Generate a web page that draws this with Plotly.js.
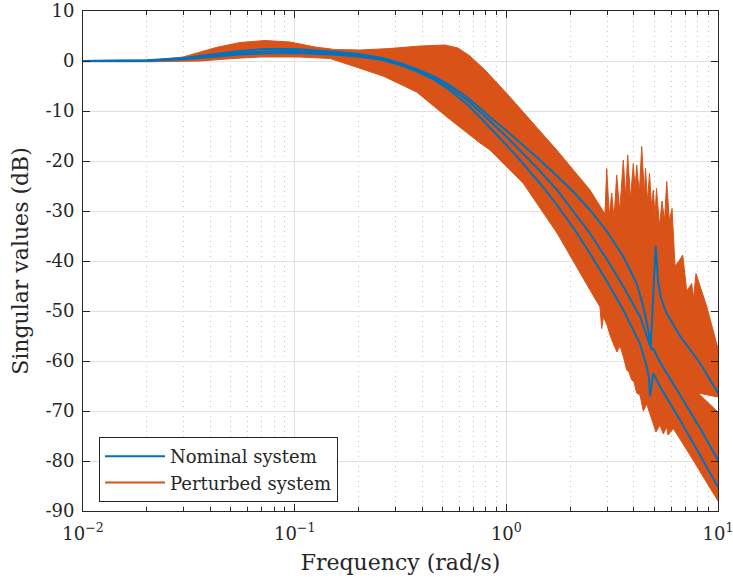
<!DOCTYPE html>
<html>
<head>
<meta charset="utf-8">
<script src="https://cdn.plot.ly/plotly-3.0.1.min.js"></script>
<style>
  html, body { margin: 0; padding: 0; background: #ffffff; }
  #plot { width: 733px; height: 585px; }
</style>
</head>
<body>
<div id="plot"></div>
<script>
// Singular values of the nominal plant and envelope of the perturbed plants

// Perturbed plants: upper envelope (rad/s, dB), left to right
const envUpperW = [0.01, 0.0207, 0.0297, 0.0425, 0.0552, 0.0724, 0.095, 0.125, 0.155, 0.204,
  0.282, 0.391, 0.513, 0.591, 0.673, 0.793, 1.01, 1.18, 1.73, 2.485, 2.924,
  2.980, 3.066, 3.147, 3.227, 3.322, 3.432, 3.570, 3.656, 3.745, 3.861, 3.980, 4.054,
  4.130, 4.249, 4.361, 4.486, 4.545, 4.645, 4.747, 4.852, 4.948, 5.039, 5.122, 5.293,
  5.439, 5.590, 5.725, 5.889, 6.064, 6.266, 6.545, 6.814, 7.116, 7.512, 7.661, 7.870,
  8.845, 10];
const envUpperDb = [0, 0.1, 0.8, 2.7, 3.7, 4.1, 3.8, 2.8, 2.3, 2.2,
  2.5, 3.0, 3.2, 2.6, 1.0, -1.8, -6.6, -9.8, -17.8, -25.8, -30.6,
  -21.5, -31.0, -26.4, -31.5, -22.8, -30.0, -19.8, -27.0, -18.8, -27.5, -20.5, -25.5,
  -20.8, -26.5, -17.1, -26.5, -21.5, -28.0, -22.5, -29.0, -25.8, -31.0, -25.5, -33.0,
  -28.0, -32.0, -24.1, -32.0, -29.5, -41.0, -40.0, -38.8, -46.0, -44.5, -47.5, -42.5,
  -49.1, -57.5];

// Gap between the two high-frequency branches at the right edge
const envGapW = [10, 8.044, 10];
const envGapDb = [-67.2, -66.4, -70.2];

// Perturbed plants: lower envelope (rad/s, dB), right to left
const envLowerW = [10, 7.375, 6.151, 5.802, 5.725, 5.516, 5.321, 5.093, 4.948, 4.773,
  4.604, 4.437, 4.280, 4.130, 4.010, 3.911, 3.798, 3.704, 3.616, 3.570, 3.443, 3.333,
  3.201, 3.088, 2.990, 2.877, 2.822, 2.770, 2.485, 1.736, 1.199, 0.837, 0.751, 0.524,
  0.377, 0.2614, 0.1826, 0.1469, 0.106, 0.0686, 0.0512, 0.0357, 0.0207, 0.01];
const envLowerDb = [-88.0, -78.8, -73.5, -74.8, -73.2, -74.6, -72.8, -74.2, -72.6, -70.2,
  -68.6, -70.0, -66.8, -66.4, -64.2, -63.8, -62.2, -61.8, -59.6, -59.1, -57.0, -58.2,
  -56.5, -54.8, -52.8, -51.2, -53.5, -49.2, -45.8, -34.4, -24.4, -17.8, -16.4, -11.2,
  -6.2, -3.0, -0.8, 0.5, 0.8, 0.8, 0.5, 0.0, -0.15, -0.15];

// Nominal plant: three singular values
const sv1W = [0.01, 0.02, 0.03, 0.043, 0.055, 0.072, 0.1, 0.15, 0.2, 0.26, 0.32, 0.38, 0.45,
  0.54, 0.65, 0.75, 0.837, 1.0, 1.199, 1.45, 1.736, 2.1, 2.485, 3.0, 3.57, 4.13, 4.437, 4.686,
  4.809, 5.077, 5.22, 5.38, 5.68, 6.615, 8.22, 10];
const sv1Db = [0, 0.15, 0.6, 1.4, 2.0, 2.4, 2.4, 1.9, 1.4, 0.6, -0.5, -1.7, -3.0,
  -4.8, -7.2, -9.4, -11.2, -13.9, -16.8, -19.9, -23.0, -26.4, -29.8, -34.2, -39.1, -44.5, -49.1, -53.8,
  -57.1, -37.0, -44.4, -47.4, -50.2, -55.0, -60.4, -66.4];

const sv2W = [0.01, 0.02, 0.03, 0.043, 0.055, 0.072, 0.1, 0.15, 0.2, 0.26, 0.32, 0.38, 0.45,
  0.54, 0.65, 0.75, 0.837, 1.0, 1.199, 1.45, 1.736, 2.1, 2.485, 3.0, 3.57, 4.28, 4.77, 4.86,
  4.93, 5.32, 6.615, 8.22, 10];
const sv2Db = [0, 0.1, 0.45, 1.1, 1.6, 1.9, 2.0, 1.6, 1.1, 0.4, -0.7, -1.9, -3.3,
  -5.3, -7.8, -10.1, -12.0, -15.1, -18.5, -22.1, -25.8, -30.4, -34.5, -39.8, -45.1, -51.1, -56.5, -57.8,
  -57.4, -60.2, -66.8, -73.4, -79.8];

const sv3W = [0.01, 0.02, 0.03, 0.043, 0.055, 0.072, 0.1, 0.15, 0.2, 0.26, 0.32, 0.38, 0.45,
  0.54, 0.65, 0.75, 0.837, 1.0, 1.199, 1.45, 1.736, 2.1, 2.485, 3.0, 3.57, 4.28, 4.604, 4.72,
  4.773, 4.948, 5.321, 6.615, 8.22, 10];
const sv3Db = [0, 0.05, 0.35, 0.9, 1.3, 1.5, 1.6, 1.3, 0.9, 0.2, -0.9, -2.1, -3.6,
  -5.8, -8.6, -11.2, -13.3, -16.8, -20.5, -24.6, -28.8, -33.7, -38.5, -44.2, -49.8, -56.5, -61.1, -63.4,
  -67.1, -62.5, -65.1, -71.8, -78.8, -85.2];

// Axis ticks
const xTickVals = [0.01, 0.1, 1, 10];
const xTickText = ['10<sup>\u22122</sup>', '10<sup>\u22121</sup>', '10<sup>0</sup>', '10<sup>1</sup>'];
const yTickVals = [-90, -80, -70, -60, -50, -40, -30, -20, -10, 0, 10];
const yTickText = ['-90', '-80', '-70', '-60', '-50', '-40', '-30', '-20', '-10', '0', '10'];

const BLUE = '#0072BD';
const ORANGE = '#D95319';
const INK = '#262626';
const FONT = 'DejaVu Serif, serif';

// Minor ticks at 2..9 of every decade
const minorVals = [];
[0.01, 0.1, 1].forEach(function (d) {
  for (let k = 2; k <= 9; k++) minorVals.push(+(k * d).toPrecision(3));
});

// Closed outline of the perturbed-plant band
const bandW = envUpperW.concat(envGapW, envLowerW);
const bandDb = envUpperDb.concat(envGapDb, envLowerDb);

const traces = [
  {
    x: bandW, y: bandDb, type: 'scatter', mode: 'lines',
    fill: 'toself', fillcolor: ORANGE,
    line: { color: ORANGE, width: 1 },
    showlegend: false, hoverinfo: 'skip'
  },
  {
    x: sv1W, y: sv1Db, type: 'scatter', mode: 'lines', name: 'Nominal system',
    legendgroup: 'nom', line: { color: BLUE, width: 2 }
  },
  {
    x: sv2W, y: sv2Db, type: 'scatter', mode: 'lines', name: 'Nominal system',
    legendgroup: 'nom', showlegend: false, line: { color: BLUE, width: 2 }
  },
  {
    x: sv3W, y: sv3Db, type: 'scatter', mode: 'lines', name: 'Nominal system',
    legendgroup: 'nom', showlegend: false, line: { color: BLUE, width: 2 }
  },
  {
    x: [null], y: [null], type: 'scatter', mode: 'lines', name: 'Perturbed system',
    line: { color: ORANGE, width: 2 }
  }
];

const layout = {
  width: 733, height: 585,
  margin: { l: 83, r: 15, t: 11, b: 74, pad: 0 },
  paper_bgcolor: '#ffffff', plot_bgcolor: '#ffffff',
  font: { family: FONT, color: INK, size: 18 },
  showlegend: true,
  xaxis: {
    type: 'log', range: [-2, 1],
    tickmode: 'array', tickvals: xTickVals, ticktext: xTickText,
    ticks: 'inside', ticklen: 7, tickwidth: 1, tickcolor: INK,
    showline: true, linecolor: INK, linewidth: 1, mirror: 'ticks',
    showgrid: true, gridcolor: '#e0e0e0', gridwidth: 1, zeroline: false,
    tickfont: { family: FONT, size: 18, color: INK },
    ticklabelstandoff: 6, ticklabeloverflow: 'allow',
    layer: 'above traces',
    title: { text: 'Frequency (rad/s)', font: { family: FONT, size: 22, color: INK }, standoff: 12 },
    minor: {
      tickmode: 'array', tickvals: minorVals,
      ticks: 'inside', ticklen: 4, tickcolor: INK,
      showgrid: true, gridcolor: '#c4c4c4', griddash: '1px,4px', gridwidth: 1
    }
  },
  yaxis: {
    range: [-90, 10],
    tickmode: 'array', tickvals: yTickVals, ticktext: yTickText,
    ticks: 'inside', ticklen: 7, tickwidth: 1, tickcolor: INK,
    showline: true, linecolor: INK, linewidth: 1, mirror: 'ticks',
    showgrid: true, gridcolor: '#e0e0e0', gridwidth: 1, zeroline: false,
    tickfont: { family: FONT, size: 18, color: INK },
    ticklabelstandoff: 4, ticklabeloverflow: 'allow',
    layer: 'above traces',
    title: { text: 'Singular values (dB)', font: { family: FONT, size: 22, color: INK }, standoff: 10 }
  },
  legend: {
    x: 0.0252, y: 0.148, xanchor: 'left', yanchor: 'top',
    bgcolor: '#ffffff', bordercolor: INK, borderwidth: 1,
    font: { family: FONT, size: 18, color: INK },
    itemwidth: 60, tracegroupgap: 0
  }
};

Plotly.newPlot('plot', traces, layout, { displayModeBar: false, staticPlot: true });
</script>
</body>
</html>
